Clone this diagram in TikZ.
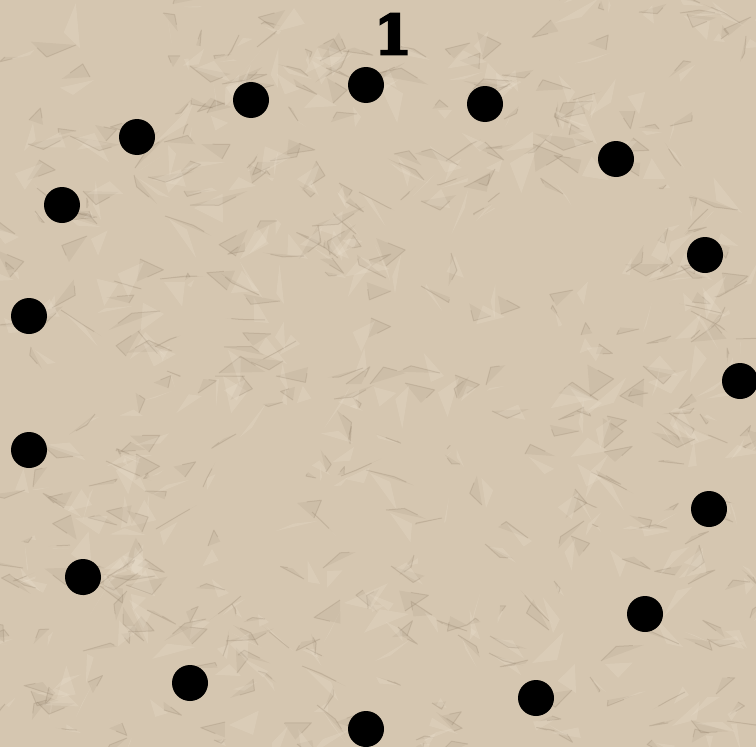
\documentclass[tikz,border=0pt]{standalone}
\usepackage{fontspec}
\newfontfamily\numfont[FakeBold=4]{DejaVu Serif Bold}
\definecolor{paper}{RGB}{213,198,176}
\definecolor{crease}{RGB}{140,122,100}
\definecolor{shine}{RGB}{238,228,212}
\tikzset{
  dot/.style={circle, fill=black, draw=none, minimum size=36bp, inner sep=0pt},
  numlabel/.style={font=\numfont\fontsize{55}{55}\selectfont, text=black, inner sep=0pt},
  darkfacet/.style={fill=crease, opacity=0.10},
  lightfacet/.style={fill=shine, opacity=0.22},
  creaseline/.style={draw=crease, line width=1bp, opacity=0.22, line join=round}
}
\begin{document}
\begin{tikzpicture}[x=1bp,y=-1bp]
\fill[paper] (0,0) rectangle (756,747);
\useasboundingbox (0,0) rectangle (756,747);
\pgfmathsetseed{11}
\begin{scope}
\clip (0,0) rectangle (756,747);
\foreach \i in {1,...,420}{
  \pgfmathsetmacro{\sx}{random(0,756)}
  \pgfmathsetmacro{\sy}{random(0,747)}
  \pgfmathsetmacro{\ax}{rand*30}
  \pgfmathsetmacro{\ay}{rand*18}
  \pgfmathsetmacro{\bx}{rand*30}
  \pgfmathsetmacro{\by}{rand*18}
  \fill[darkfacet] (\sx,\sy) -- ++(\ax,\ay) -- ++(\bx,\by) -- cycle;
  \fill[lightfacet] (\sx+4,\sy+3) -- ++(\bx,\by) -- ++(\ay,\ax) -- cycle;
  \draw[creaseline] (\sx,\sy) -- ++(\ax,\ay) -- ++(\bx*0.6,\by*0.6);
}
\end{scope}
\node[numlabel] (one) at (393,34) {1};
\node[dot] (d1) at (366,85) {};
\node[dot] (d2) at (485,104) {};
\node[dot] (d3) at (616,159) {};
\node[dot] (d4) at (705,255) {};
\node[dot] (d5) at (740,381) {};
\node[dot] (d6) at (709,509) {};
\node[dot] (d7) at (645,614) {};
\node[dot] (d8) at (536,698) {};
\node[dot] (d9) at (366,729) {};
\node[dot] (d10) at (190,683) {};
\node[dot] (d11) at (83,577) {};
\node[dot] (d12) at (29,450) {};
\node[dot] (d13) at (29,316) {};
\node[dot] (d14) at (62,205) {};
\node[dot] (d15) at (137,137) {};
\node[dot] (d16) at (251,100) {};
\end{tikzpicture}
\end{document}
